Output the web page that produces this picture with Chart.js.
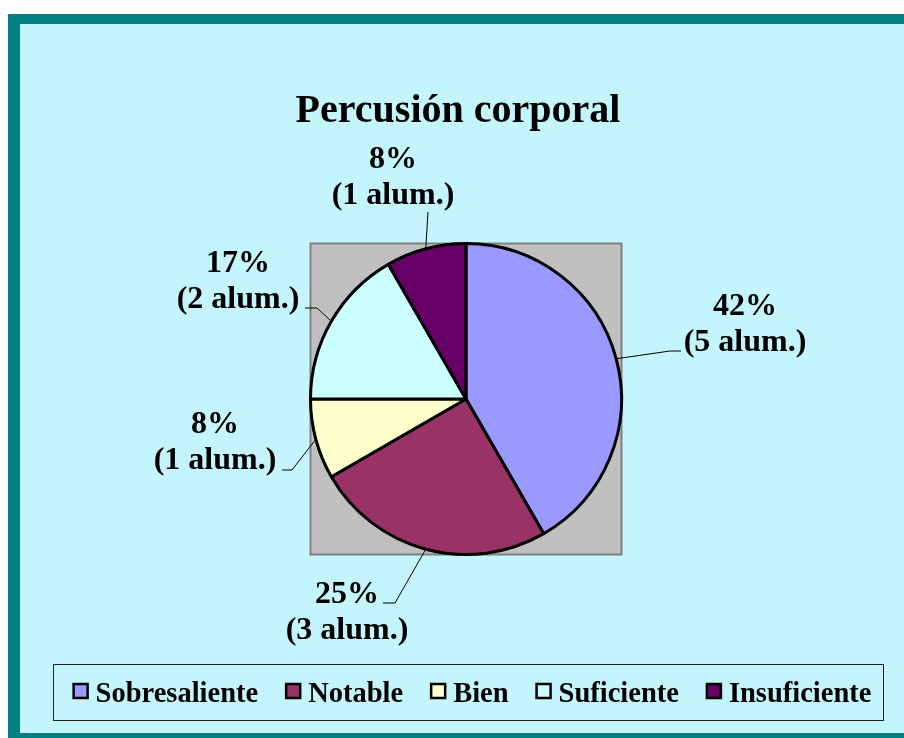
<!DOCTYPE html>
<html>
<head>
<meta charset="utf-8">
<script src="https://cdn.jsdelivr.net/npm/chart.js@4/dist/chart.umd.min.js"></script>
<style>
  html, body { margin: 0; padding: 0; background: #ffffff; }
  #wrap { width: 904px; height: 738px; }
</style>
</head>
<body>
<div id="wrap"><canvas id="pieChart" width="904" height="738"></canvas></div>
<script>
// data
const chartTitle = "Percusión corporal";
const grades = ["Sobresaliente", "Notable", "Bien", "Suficiente", "Insuficiente"];
const students = [5, 3, 1, 2, 1];
const sliceColors = ["#9999ff", "#993366", "#ffffcc", "#ccffff", "#660066"];

// label placement, relative to pie centre (text centre/baseline, leader elbow, leader end)
const labelSpots = [
    { tx: 279, ty: -84, ex: 204, ey: -48, hx: 215 },
    { tx: -119, ty: 204, ex: -71, ey: 204, hx: -83 },
    { tx: -251, ty: 34, ex: -174, ey: 71, hx: -184 },
    { tx: -228, ty: -127, ex: -149, ey: -91, hx: -161 },
    { tx: -73, ty: -231, ex: -38, ey: -187, hx: -38 }
];

const serif = '"Liberation Serif", "Times New Roman", serif';
const total = students.reduce((a, b) => a + b, 0);

const ctx = document.getElementById("pieChart").getContext("2d");

new Chart(ctx, {
    type: 'pie',

    data: {
        labels: grades,
        datasets: [{
            data: students,
            backgroundColor: sliceColors,
            borderColor: "#000000",
            borderWidth: 3,
            hoverOffset: 0
        }]
    },

    options: {
        responsive: false,
        animation: false,
        events: [],
        layout: {
            padding: { left: 309, right: 281, top: 242, bottom: 182 }
        },
        plugins: {
            legend: { display: false },
            title: { display: false },
            tooltip: { enabled: false }
        }
    },

    plugins: [{
        id: "excelLook",

        beforeDraw: (chart) => {
            const c = chart.ctx;
            c.save();
            c.fillStyle = "#ffffff";
            c.fillRect(0, 0, chart.width, chart.height);
            c.fillStyle = "#008080";
            c.fillRect(8, 14, chart.width - 8, chart.height - 14);
            c.fillStyle = "#c4f5fc";
            c.fillRect(20, 24, chart.width - 20, 733 - 24);

            // title
            c.fillStyle = "#000000";
            c.font = "bold 40px " + serif;
            c.textAlign = "center";
            c.textBaseline = "alphabetic";
            c.fillText(chartTitle, 458, 122);

            // legend box
            c.strokeStyle = "#222222";
            c.lineWidth = 1;
            c.strokeRect(53.5, 664.5, 830, 56);

            c.font = "bold 28.5px " + serif;
            const gap = 27, sw = 14, pad = 7;
            let widths = grades.map(g => c.measureText(g).width);
            let full = widths.reduce((a, b) => a + b, 0) + grades.length * (sw + 2 + pad) + gap * (grades.length - 1);
            let x = 472 - full / 2;
            c.textAlign = "left";
            grades.forEach((g, i) => {
                c.fillStyle = sliceColors[i];
                c.fillRect(x + 1, 684, sw, sw);
                c.strokeStyle = "#000000";
                c.lineWidth = 2.5;
                c.strokeRect(x + 1, 684, sw, sw);
                c.fillStyle = "#000000";
                c.fillText(g, x + sw + 2 + pad, 702);
                x += sw + 2 + pad + widths[i] + gap;
            });
            c.restore();
        },

        beforeDatasetsDraw: (chart) => {
            const arc = chart.getDatasetMeta(0).data[0];
            const c = chart.ctx;
            const r = arc.outerRadius;
            c.save();
            c.fillStyle = "#c0c0c0";
            c.fillRect(arc.x - r, arc.y - r, r * 2, r * 2);
            c.strokeStyle = "#808080";
            c.lineWidth = 2;
            c.strokeRect(arc.x - r, arc.y - r, r * 2, r * 2);
            c.restore();
        },

        afterDatasetsDraw: (chart) => {
            const c = chart.ctx;
            const arcs = chart.getDatasetMeta(0).data;
            c.save();
            arcs.forEach((arc, i) => {
                const mid = (arc.startAngle + arc.endAngle) / 2;
                const r = arc.outerRadius;
                const spot = labelSpots[i];
                const px = arc.x + Math.cos(mid) * r;
                const py = arc.y + Math.sin(mid) * r;

                // leader line
                c.strokeStyle = "#000000";
                c.lineWidth = 1;
                c.beginPath();
                c.moveTo(px, py);
                c.lineTo(arc.x + spot.ex, arc.y + spot.ey);
                c.lineTo(arc.x + spot.hx, arc.y + spot.ey);
                c.stroke();

                const pct = Math.round(students[i] / total * 100) + "%";
                c.fillStyle = "#000000";
                c.font = "bold 32px " + serif;
                c.textAlign = "center";
                c.textBaseline = "alphabetic";
                c.fillText(pct, arc.x + spot.tx, arc.y + spot.ty);
                c.fillText("(" + students[i] + " alum.)", arc.x + spot.tx, arc.y + spot.ty + 36);
            });
            c.restore();
        }
    }]
});
</script>
</body>
</html>
